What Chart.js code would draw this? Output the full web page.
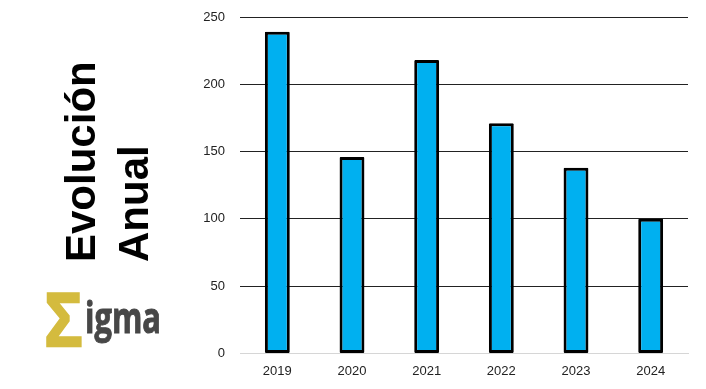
<!DOCTYPE html>
<html>
<head>
<meta charset="utf-8">
<script src="https://cdn.jsdelivr.net/npm/chart.js@4"></script>
<style>
  html, body { margin: 0; padding: 0; background: #fff; }
  #wrap { width: 706px; height: 389px; }
</style>
</head>
<body>
<div id="wrap"><canvas id="evoChart" width="706" height="389"></canvas></div>
<script>
const years = ["2019", "2020", "2021", "2022", "2023", "2024"];
const values = [239, 146, 218, 171, 138, 100];
const yMin = 0;
const yMax = 250;
const yStep = 50;
const titleLines = ["Evolución", "Anual"];
const logoMark = "Σ";
const logoWord = "igma";

// side title + logo, drawn on the canvas
const sidePlugin = {
  id: "side",
  afterDraw(chart) {
    const ctx = chart.ctx;
    ctx.save();
    ctx.fillStyle = "#000";
    ctx.font = "bold 42px 'Liberation Sans', Arial, sans-serif";
    ctx.textAlign = "left";
    ctx.textBaseline = "alphabetic";
    const baseX = [95, 148];
    titleLines.forEach((txt, i) => {
      ctx.save();
      ctx.translate(baseX[i], 262);
      ctx.rotate(-Math.PI / 2);
      ctx.fillText(txt, 0, 0);
      ctx.restore();
    });

    // logo mark (a bit heavier than the plain glyph)
    ctx.save();
    ctx.font = "bold 76px 'Liberation Sans', Arial, sans-serif";
    ctx.fillStyle = "#d4bb3e";
    ctx.strokeStyle = "#d4bb3e";
    ctx.lineWidth = 2.5;
    ctx.lineJoin = "miter";
    let w = ctx.measureText(logoMark).width;
    ctx.translate(44.5, 346);
    ctx.scale(38 / w, 1);
    ctx.fillText(logoMark, 0, 0);
    ctx.strokeText(logoMark, 0, 0);
    ctx.restore();

    // logo word
    ctx.save();
    ctx.font = "bold 43px 'Open Sans', 'Liberation Sans', sans-serif";
    ctx.fillStyle = "#474747";
    ctx.strokeStyle = "#474747";
    ctx.lineWidth = 1;
    w = ctx.measureText(logoWord).width;
    ctx.translate(85, 333);
    ctx.scale(76 / w, 1);
    ctx.fillText(logoWord, 0, 0);
    ctx.strokeText(logoWord, 0, 0);
    ctx.restore();

    ctx.restore();
  }
};

const ctx = document.getElementById("evoChart").getContext("2d");
const chart = new Chart(ctx, {
  type: "bar",
  data: {
    labels: years,
    datasets: [{
      label: "Evolución Anual",
      data: values,
      backgroundColor: "#00b0f0",
      borderColor: "#000",
      borderWidth: 3,
      borderRadius: 1,
      borderSkipped: false,
      categoryPercentage: 1,
      barPercentage: 1 / 3,
    }],
  },
  options: {
    responsive: false,
    animation: false,
    layout: {
      padding: { left: 0, right: 18, top: 17, bottom: 0 },
    },
    plugins: {
      legend: { display: false },
      tooltip: { enabled: false },
    },
    scales: {
      x: {
        grid: { display: false, drawTicks: false },
        border: { display: true, color: "#d6d6d6", width: 1 },
        ticks: {
          color: "#222",
          padding: 10,
          font: { family: "'Liberation Sans', Arial, sans-serif", size: 13 },
        },
      },
      y: {
        min: yMin,
        max: yMax,
        afterFit: (scale) => {
          scale.width = 240;
          scale.paddingTop = 0;
          scale.paddingBottom = 0;
        },
        grid: {
          drawTicks: false,
          color: (c) => (c.tick && c.tick.value === 0 ? "#d6d6d6" : "#222"),
          lineWidth: 1,
        },
        border: { display: false },
        ticks: {
          stepSize: yStep,
          color: "#222",
          padding: 15,
          font: { family: "'Liberation Sans', Arial, sans-serif", size: 13 },
        },
      },
    },
  },
  plugins: [sidePlugin],
});
</script>
</body>
</html>
